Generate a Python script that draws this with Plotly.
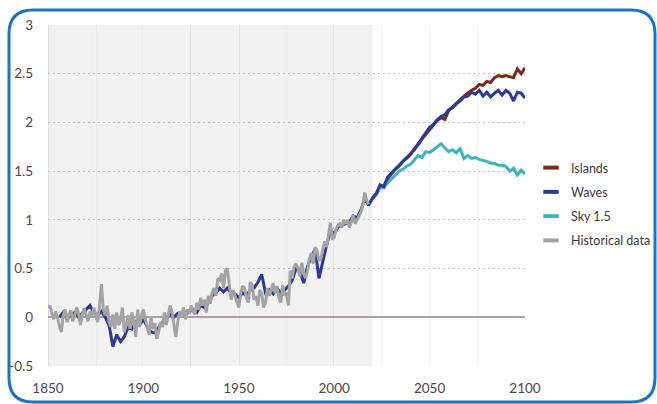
import plotly.graph_objects as go

# ---------------- data ----------------
hist_years = list(range(1850, 2019))
hist_vals = [
    0.10, 0.12, 0.04, -0.02, 0.06, 0.00, -0.10, -0.15, 0.02, 0.08,
    -0.05, 0.03, 0.07, -0.04, 0.02, 0.10, 0.04, -0.08, 0.03, 0.09,
    0.02, -0.04, 0.06, 0.01, 0.10, 0.03, -0.05, 0.12, 0.34, 0.08,
    0.02, 0.12, -0.05, -0.10, 0.03, -0.12, 0.05, -0.08, -0.03, 0.10,
    -0.15, -0.08, 0.02, -0.12, 0.05, -0.05, -0.20, 0.08, -0.10, 0.02,
    0.08, -0.02, -0.10, -0.18, 0.00, -0.12, -0.06, -0.22, -0.15, -0.05,
    -0.10, 0.05, -0.08, 0.02, 0.12, 0.05, -0.10, -0.20, -0.05, 0.06,
    0.02, 0.10, -0.02, 0.08, 0.04, 0.12, 0.06, 0.03, 0.15, 0.08,
    0.20, 0.12, 0.18, 0.05, 0.22, 0.14, 0.25, 0.30, 0.22, 0.40,
    0.38, 0.45, 0.30, 0.48, 0.50, 0.35, 0.18, 0.28, 0.22, 0.15,
    0.10, 0.25, 0.32, 0.30, 0.20, 0.15, 0.36, 0.33, 0.18, 0.22,
    0.12, 0.28, 0.25, 0.10, 0.15, 0.30, 0.22, 0.28, 0.35, 0.25,
    0.32, 0.20, 0.15, 0.33, 0.22, 0.25, 0.12, 0.48, 0.40, 0.52,
    0.55, 0.50, 0.42, 0.56, 0.45, 0.40, 0.48, 0.60, 0.66, 0.55,
    0.72, 0.68, 0.58, 0.60, 0.70, 0.78, 0.72, 0.84, 0.97, 0.80,
    0.82, 0.90, 0.95, 0.96, 0.92, 1.00, 0.96, 1.00, 0.92, 0.98,
    1.05, 0.96, 1.00, 1.04, 1.08, 1.15, 1.28, 1.20, 1.16,
]

waves_years = list(range(1856, 2101, 2))
waves_vals = [
    0.00, 0.05, -0.02, 0.03, 0.05, 0.00, 0.04, 0.08, 0.12, 0.05,
    0.02, 0.06, 0.00, -0.08, -0.30, -0.18, -0.25, -0.20, -0.10, -0.12,
    -0.05, -0.08, -0.02, -0.10, -0.15, -0.16, -0.10, -0.05, 0.00, 0.03,
    0.00, 0.04, 0.05, 0.02, 0.06, 0.08, 0.05, 0.12, 0.10, 0.15,
    0.22, 0.25, 0.30, 0.26, 0.30, 0.25, 0.24, 0.20, 0.25, 0.22,
    0.28, 0.30, 0.36, 0.44, 0.25, 0.28, 0.24, 0.30, 0.25, 0.28,
    0.32, 0.38, 0.50, 0.48, 0.35, 0.52, 0.62, 0.70, 0.40, 0.58,
    0.74, 0.88, 0.86, 0.93, 0.95, 0.96, 0.98, 1.04, 1.02, 1.10,
    1.22, 1.15, 1.22, 1.27, 1.36, 1.34, 1.44, 1.48, 1.52, 1.56,
    1.60, 1.64, 1.68, 1.72, 1.78, 1.84, 1.90, 1.95, 1.98, 2.03,
    2.06, 2.08, 2.13, 2.15, 2.19, 2.22, 2.26, 2.27, 2.31, 2.29,
    2.33, 2.27, 2.31, 2.26, 2.30, 2.33, 2.28, 2.33, 2.30, 2.22,
    2.31, 2.30, 2.25,
]

future_years = list(range(2020, 2101, 2))
islands_vals = [
    1.22, 1.26, 1.34, 1.35, 1.42, 1.47, 1.52, 1.55, 1.60, 1.63,
    1.67, 1.73, 1.77, 1.83, 1.88, 1.93, 1.97, 2.02, 2.05, 2.03,
    2.12, 2.16, 2.20, 2.23, 2.27, 2.30, 2.33, 2.35, 2.39, 2.38,
    2.42, 2.41, 2.46, 2.48, 2.47, 2.48, 2.47, 2.46, 2.55, 2.50,
    2.56,
]
sky_vals = [
    1.22, 1.26, 1.33, 1.33, 1.38, 1.42, 1.45, 1.50, 1.52, 1.55,
    1.57, 1.62, 1.66, 1.64, 1.70, 1.69, 1.72, 1.75, 1.78, 1.74,
    1.70, 1.72, 1.69, 1.73, 1.63, 1.66, 1.63, 1.64, 1.62, 1.61,
    1.60, 1.58, 1.58, 1.56, 1.56, 1.55, 1.50, 1.53, 1.46, 1.51,
    1.47,
]

x_ticks = [1850, 1900, 1950, 2000, 2050, 2100]
y_ticks = [-0.5, 0, 0.5, 1, 1.5, 2, 2.5, 3]
grid_years = list(range(1850, 2101, 25))
shade_end = 2020

names = ["Islands", "Waves", "Sky 1.5", "Historical data"]
colors = {"Islands": "#7a2818", "Waves": "#2b3a93",
          "Sky 1.5": "#3db3c0", "Historical data": "#a3a3a3"}

# ---------------- layout helpers ----------------
W, H = 657, 404
ML, MR, MT, MB = 48, 132, 25, 38
PW, PH = W - ML - MR, H - MT - MB


def fx(px):
    return (px - ML) / PW


def fy(py):
    return (H - MB - py) / PH


FONT = "Lato"
fig = go.Figure()

series = [
    ("Islands", future_years, islands_vals),
    ("Sky 1.5", future_years, sky_vals),
    ("Waves", waves_years, waves_vals),
    ("Historical data", hist_years, hist_vals),
]
for name, xs, ys in series:
    fig.add_trace(go.Scatter(
        x=xs, y=ys, mode="lines", name=name, legendgroup=name,
        showlegend=False, line=dict(color=colors[name], width=3),
        hoverinfo="x+y+name"))

# legend entries with short bar swatches
for i, name in enumerate(names):
    fig.add_trace(go.Scatter(
        x=[None], y=[None], mode="markers", name=name, legendgroup=name,
        legendrank=i + 1,
        marker=dict(symbol="line-ew", size=11,
                    line=dict(width=4, color=colors[name]))))

shapes = [
    dict(type="rect", xref="x", yref="paper", x0=1850, x1=shade_end,
         y0=0, y1=1, fillcolor="#f1f1f1", line=dict(width=0), layer="below"),
]
for g in grid_years:
    if g <= shade_end:
        shapes.append(dict(type="line", xref="x", yref="paper", x0=g, x1=g,
                           y0=0, y1=1, line=dict(color="#d6cfcf", width=1.2),
                           layer="below"))

# rounded blue frame
x0, y0, x1, y1, r = 9, 10, 655, 402, 24
path = (
    f"M {fx(x0 + r)},{fy(y0)} L {fx(x1 - r)},{fy(y0)} "
    f"Q {fx(x1)},{fy(y0)} {fx(x1)},{fy(y0 + r)} "
    f"L {fx(x1)},{fy(y1 - r)} Q {fx(x1)},{fy(y1)} {fx(x1 - r)},{fy(y1)} "
    f"L {fx(x0 + r)},{fy(y1)} Q {fx(x0)},{fy(y1)} {fx(x0)},{fy(y1 - r)} "
    f"L {fx(x0)},{fy(y0 + r)} Q {fx(x0)},{fy(y0)} {fx(x0 + r)},{fy(y0)} Z"
)
shapes.append(dict(type="path", xref="paper", yref="paper", path=path,
                   line=dict(color="#1b74c0", width=3), layer="above"))

fig.update_layout(
    width=W, height=H,
    margin=dict(l=ML, r=MR, t=MT, b=MB, autoexpand=False),
    paper_bgcolor="white", plot_bgcolor="white",
    font=dict(family=FONT, color="#4e4646", size=13),
    shapes=shapes,
    showlegend=True,
    legend=dict(xref="container", yref="container",
                x=531 / W, y=1 - 153 / H, xanchor="left", yanchor="top",
                traceorder="grouped", tracegroupgap=5,
                font=dict(family=FONT, size=12.5, color="#3f3838"),
                bgcolor="rgba(0,0,0,0)"),
    xaxis=dict(range=[1850, 2100], tickvals=x_ticks,
               ticktext=[str(t) for t in x_ticks], automargin=False,
               showgrid=True, gridcolor="#f3f3f3", gridwidth=1,
               minor=dict(tickvals=grid_years, showgrid=True,
                          gridcolor="#f3f3f3", gridwidth=1),
               zeroline=False, showline=False, ticks="",
               ticklabelstandoff=12, tickfont=dict(size=13.5)),
    yaxis=dict(range=[-0.5, 3], tickvals=y_ticks,
               ticktext=[("%g" % v) for v in y_ticks], automargin=False,
               showgrid=True, gridcolor="#c8c0c0", gridwidth=1.2,
               griddash="2px,3px",
               zeroline=True, zerolinecolor="#aaa2a2", zerolinewidth=1.5,
               showline=False, ticks="", ticklabelstandoff=14,
               tickfont=dict(size=13.5)),
)

fig.write_html("out.html",
               config={"displayModeBar": False},
               post_script="document.body.style.margin='0px';"
                           "document.body.style.padding='0px';")
